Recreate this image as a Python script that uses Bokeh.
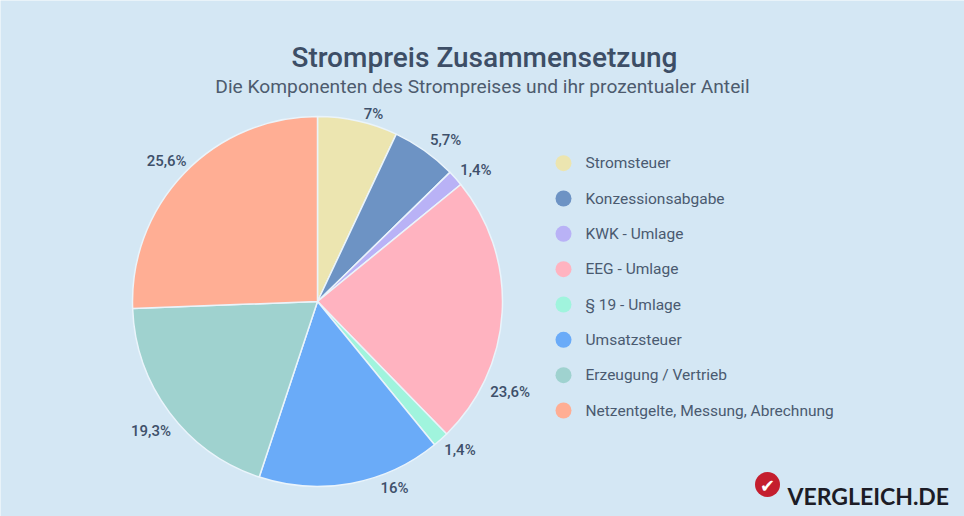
import math
from bokeh.plotting import figure
from bokeh.models import Range1d, Label, ColumnDataSource
from bokeh.core.properties import value
from bokeh.embed import file_html
from bokeh.resources import INLINE

# ---- data ----
categories = ["Stromsteuer", "Konzessionsabgabe", "KWK - Umlage", "EEG - Umlage",
              "§ 19 - Umlage", "Umsatzsteuer", "Erzeugung / Vertrieb",
              "Netzentgelte, Messung, Abrechnung"]
shares = [7.0, 5.7, 1.4, 23.6, 1.4, 16.0, 19.3, 25.6]
share_labels = ["7%", "5,7%", "1,4%", "23,6%", "1,4%", "16%", "19,3%", "25,6%"]
colors = ["#ece5b0", "#6d93c4", "#b9b2f6", "#ffb3c0", "#a0f4dd", "#6aabf8", "#9fd2cf", "#ffae94"]

title_text = "Strompreis Zusammensetzung"
subtitle_text = "Die Komponenten des Strompreises und ihr prozentualer Anteil"
brand_text = "VERGLEICH.DE"

# ---- style / layout ----
W, H = 964, 516
BG = "#d4e7f4"
label_nudge_deg = [4, 3, 2, 22, -2, -12, -1, -1]
label_r_nudge = [-10, 0, 0, 7, 0, -4, 5, 0]


def X(xr):
    return xr


def Y(yr):
    return H - yr


cx, cy, R = X(317), Y(301), 185
label_r = 206

p = figure(width=W, height=H, output_backend="svg", toolbar_location=None,
           x_range=Range1d(0, W), y_range=Range1d(0, H), min_border=0,
           background_fill_color=BG, border_fill_color=BG, outline_line_color=None)
p.axis.visible = False
p.grid.visible = False

total = sum(shares)
starts, ends, lx, ly = [], [], [], []
cum = 0.0
for i, s in enumerate(shares):
    a0 = cum / total * 2 * math.pi
    cum += s
    a1 = cum / total * 2 * math.pi
    # clockwise from top -> bokeh anticlockwise angles from +x
    starts.append(math.pi / 2 - a1)
    ends.append(math.pi / 2 - a0)
    mid = (a0 + a1) / 2 + math.radians(label_nudge_deg[i])
    r = label_r + label_r_nudge[i]
    lx.append(cx + r * math.sin(mid))
    ly.append(cy + r * math.cos(mid))

src = ColumnDataSource(dict(start=starts, end=ends, color=colors, cat=categories,
                            lx=lx, ly=ly, lab=share_labels))
p.wedge(x=cx, y=cy, radius=R, start_angle="start", end_angle="end", source=src,
        fill_color="color", line_color="#eaf4fb", line_width=1.5, direction="anticlock")

p.text(x="lx", y="ly", text="lab", source=src, text_align="center", text_baseline="middle",
       text_font=value("Roboto Medium"), text_font_size="15px",
       text_color="#3e506a")

# legend
n = len(categories)
leg_top, leg_bot = 162.7, 410
step = (leg_bot - leg_top) / (n - 1)
leg_y = [Y(leg_top + i * step) for i in range(n)]
leg_src = ColumnDataSource(dict(y=leg_y, color=colors, cat=categories))
p.scatter(x=X(563), y="y", source=leg_src, size=16, fill_color="color", line_color=None)
p.text(x=X(585), y="y", text="cat", source=leg_src, text_align="left", text_baseline="middle",
       text_font=value("Roboto"), text_font_size="15.5px", text_color="#4a5a70")

# titles
p.add_layout(Label(x=X(484), y=Y(57), text=title_text, text_align="center",
                   text_baseline="alphabetic", text_font="Roboto Medium",
                   text_font_size="28px", text_color="#3d4e66"))
p.add_layout(Label(x=X(482), y=Y(86), text=subtitle_text, text_align="center",
                   text_baseline="alphabetic", text_font="Roboto",
                   text_font_size="19.2px", text_color="#4d5b6e"))

# brand logo
p.scatter(x=[X(767)], y=[Y(484)], size=25, fill_color="#c41e2e", line_color=None)
p.add_layout(Label(x=X(767), y=Y(485), text="✔", text_align="center", text_baseline="middle",
                   text_font="DejaVu Sans", text_font_size="18px", text_color="white"))
p.add_layout(Label(x=X(787), y=Y(495), text=brand_text, text_align="left",
                   text_baseline="alphabetic", text_font="Lato", text_font_style="bold",
                   text_font_size="23px", text_color="#1c1c26"))

open("out.html", "w").write(file_html(p, INLINE))
